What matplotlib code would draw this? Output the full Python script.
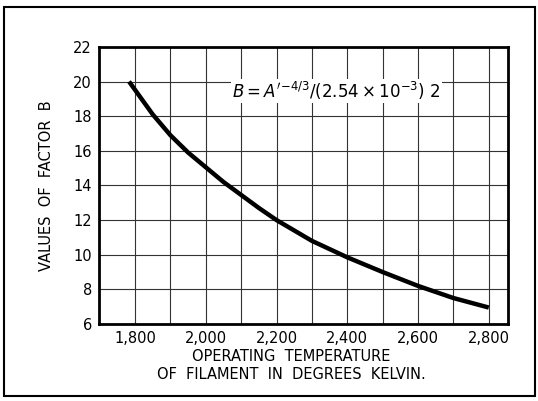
#!/usr/bin/env python3
"""Factor B versus filament operating temperature."""

import matplotlib
matplotlib.use("Agg")
import matplotlib.pyplot as plt
from matplotlib.patches import Rectangle

# curve
TEMP_K = [1783, 1850, 1900, 1950, 2000, 2050, 2100, 2150, 2200,
          2300, 2400, 2500, 2600, 2700, 2800]
FACTOR_B = [20.0, 18.1, 16.9, 15.9, 15.05, 14.2, 13.45, 12.7, 12.0,
            10.8, 9.85, 9.0, 8.2, 7.5, 6.95]

X_TICKS = [1800, 2000, 2200, 2400, 2600, 2800]
X_TICK_LABELS = ["1,800", "2,000", "2,200", "2,400", "2,600", "2,800"]
X_GRID = list(range(1800, 2801, 100))
Y_TICKS = [6, 8, 10, 12, 14, 16, 18, 20, 22]

plt.rcParams["font.family"] = ["DejaVu Sans"]

fig = plt.figure(figsize=(5.38, 4.01), dpi=100)
ax = fig.add_axes([0.184, 0.192, 0.760, 0.691])

ax.plot(TEMP_K, FACTOR_B, color="black", lw=3.2, solid_capstyle="butt")

ax.set_xlim(1698, 2854)
ax.set_ylim(6, 22)
ax.set_xticks(X_GRID, minor=True)
ax.set_xticks(X_TICKS)
ax.set_xticklabels(X_TICK_LABELS, fontsize=10.5)
ax.set_yticks(Y_TICKS)
ax.set_yticklabels([str(v) for v in Y_TICKS], fontsize=10.5)
ax.tick_params(which="both", length=0, pad=5)
ax.grid(which="both", color="#333333", lw=0.8)

for side in ax.spines.values():
    side.set_linewidth(2.0)

ax.set_ylabel("VALUES  OF  FACTOR  B", fontsize=10.5, labelpad=14)
ax.set_xlabel("OPERATING  TEMPERATURE\nOF  FILAMENT  IN  DEGREES  KELVIN.",
              fontsize=10.5, linespacing=1.25)
ax.xaxis.set_label_coords(0.47, -0.09, transform=ax.transAxes)

ax.text(2075, 19.45, r"$\mathit{B = A'^{-4/3}/(2.54 \times 10^{-3})\ 2}$",
        fontsize=12, va="center", ha="left",
        bbox=dict(facecolor="white", edgecolor="none", pad=1))

fig.patches.append(Rectangle((0.008, 0.012), 0.987, 0.97, transform=fig.transFigure,
                             fill=False, edgecolor="black", lw=1.5))

fig.savefig("out.png", dpi=100)
